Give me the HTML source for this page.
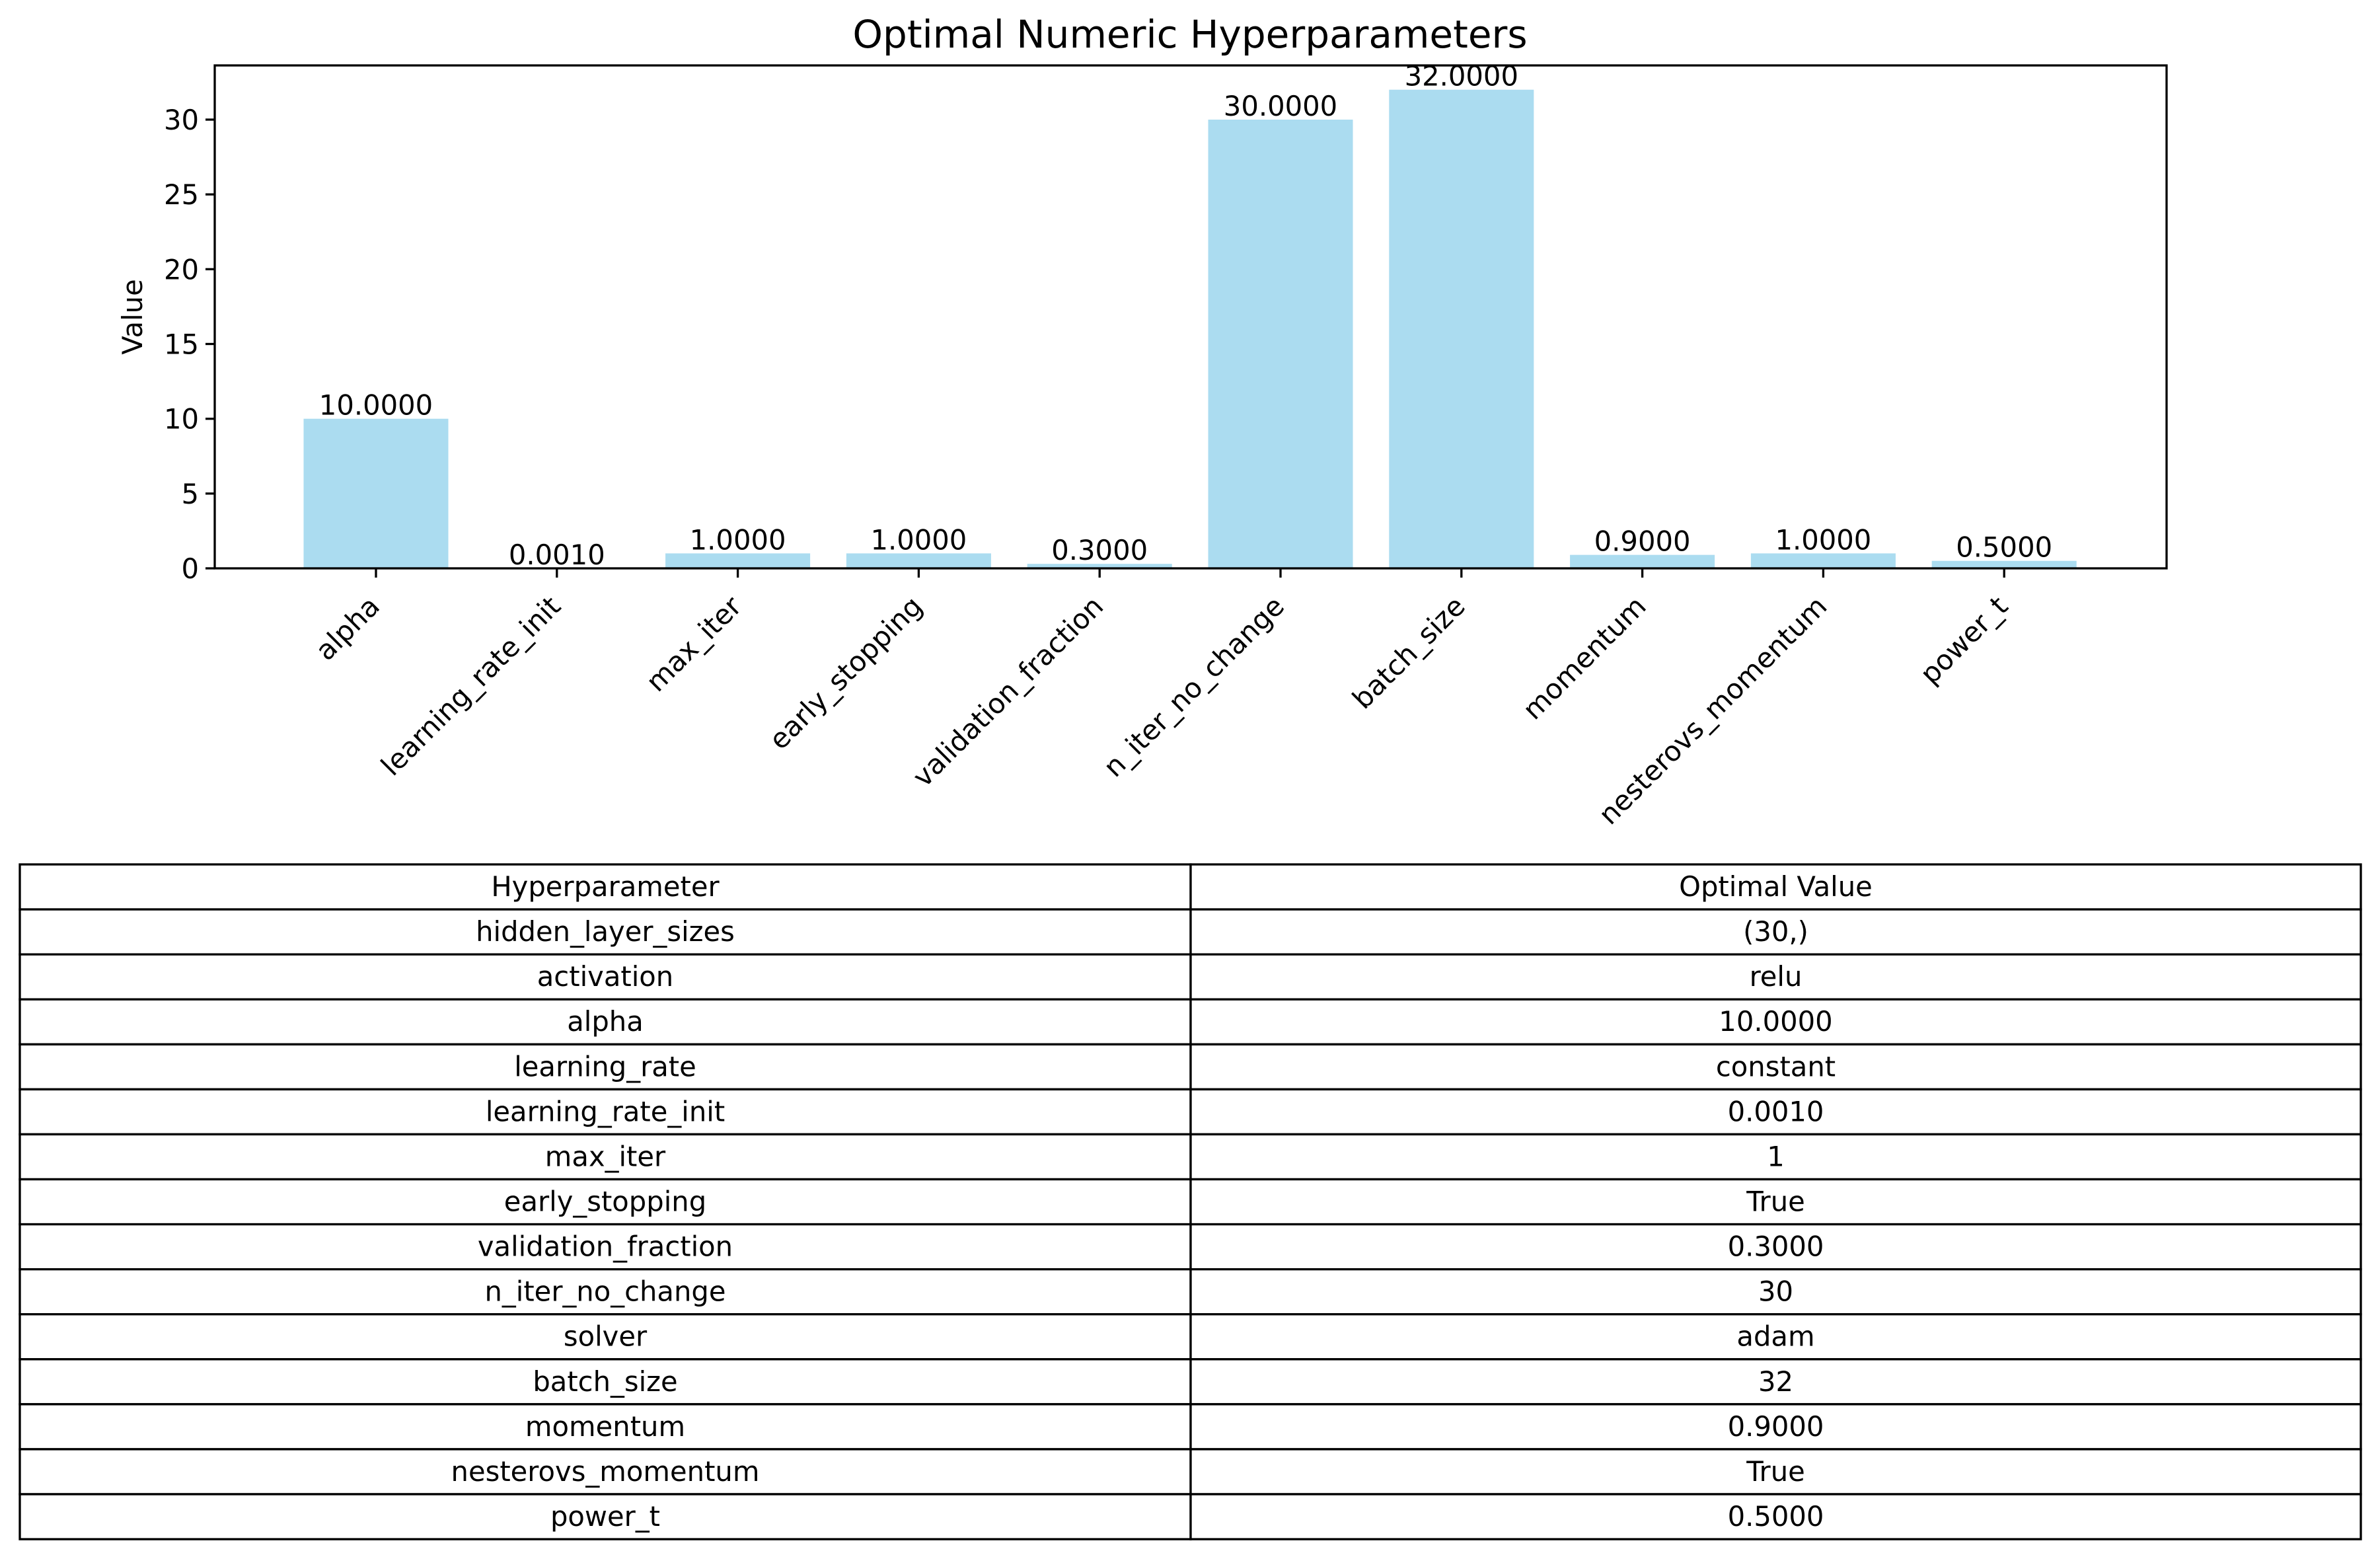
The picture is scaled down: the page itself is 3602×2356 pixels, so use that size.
<!DOCTYPE html>
<html><head><meta charset="utf-8"><style>
html,body{margin:0;padding:0;background:#fff}
svg{display:block;font-family:"DejaVu Sans","Liberation Sans",sans-serif}
</style></head><body>
<svg id="chart" width="3602" height="2356" viewBox="0 0 3602 2356" xmlns="http://www.w3.org/2000/svg">
<text x="1801" y="72" font-size="58" text-anchor="middle">Optimal Numeric Hyperparameters</text>
<g id="plot"></g>
<g id="table"></g>
</svg>
<script>
const categories=["alpha","learning_rate_init","max_iter","early_stopping","validation_fraction","n_iter_no_change","batch_size","momentum","nesterovs_momentum","power_t"];
const values=[10,0.001,1,1,0.3,30,32,0.9,1,0.5];
const valueLabels=["10.0000","0.0010","1.0000","1.0000","0.3000","30.0000","32.0000","0.9000","1.0000","0.5000"];
const yTicks=[0,5,10,15,20,25,30];
const tableHeader=["Hyperparameter","Optimal Value"];
const tableParams=["hidden_layer_sizes","activation","alpha","learning_rate","learning_rate_init","max_iter","early_stopping","validation_fraction","n_iter_no_change","solver","batch_size","momentum","nesterovs_momentum","power_t"];
const tableValues=["(30,)","relu","10.0000","constant","0.0010","1","True","0.3000","30","adam","32","0.9000","True","0.5000"];

const NS="http://www.w3.org/2000/svg";
function mk(parent,tag,attrs,text){const e=document.createElementNS(NS,tag);for(const k in attrs)e.setAttribute(k,attrs[k]);if(text!==undefined)e.textContent=text;parent.appendChild(e);return e;}
const L=325,R=3279,T=99,B=860;
const x0=569,step=273.8;
const xs=i=>x0+i*step;
const ys=v=>B-v*(B-181)/30;
const g=document.getElementById('plot');
const FS=41.7;
categories.forEach((c,i)=>{
  const bw=0.8*step;
  const r=mk(g,'rect',{x:xs(i)-bw/2,y:ys(values[i]),width:bw,height:B-ys(values[i]),fill:'#abdcf0'});
  
  
  const t=mk(g,'text',{x:xs(i),y:ys(values[i])-6,'font-size':FS,'text-anchor':'middle'},valueLabels[i]);
  
  
  const tk=mk(g,'line',{x1:xs(i),x2:xs(i),y1:B,y2:B+14,stroke:'#000','stroke-width':3.3});
  
  
  const ax=xs(i)+8,ay=920;
  const lb=mk(g,'text',{x:ax,y:ay,'font-size':FS,'text-anchor':'end',transform:`rotate(-45 ${ax} ${ay})`},c);
  
  
});
yTicks.forEach(v=>{
  const tk=mk(g,'line',{x1:L-14,x2:L,y1:ys(v),y2:ys(v),stroke:'#000','stroke-width':3.3});
  
  
  const t=mk(g,'text',{x:L-24,y:ys(v)+15,'font-size':FS,'text-anchor':'end'},String(v));
  
  
});
const fr=mk(g,'rect',{x:L,y:T,width:R-L,height:B-T,fill:'none',stroke:'#000','stroke-width':3.3});


const yl=mk(g,'text',{x:215,y:(T+B)/2,'font-size':FS,'text-anchor':'middle',transform:`rotate(-90 215 ${(T+B)/2})`},'Value');



const tg=document.getElementById('table');
const TL=30,TR=3573,TM=1802,TT=1308,RH=68.07;
const rows=[tableHeader].concat(tableParams.map((p,i)=>[p,tableValues[i]]));
rows.forEach((r,i)=>{
  const y=TT+i*RH;
  const c1=mk(tg,'rect',{x:TL,y:y,width:TM-TL,height:RH,fill:'#fff',stroke:'#000','stroke-width':3.3});
  
  
  const c2=mk(tg,'rect',{x:TM,y:y,width:TR-TM,height:RH,fill:'#fff',stroke:'#000','stroke-width':3.3});
  
  
  const t1=mk(tg,'text',{x:(TL+TM)/2,y:y+RH/2+14,'font-size':FS,'text-anchor':'middle'},r[0]);
  
  
  const t2=mk(tg,'text',{x:(TM+TR)/2,y:y+RH/2+14,'font-size':FS,'text-anchor':'middle'},r[1]);
  
  
});
</script>
</body></html>
